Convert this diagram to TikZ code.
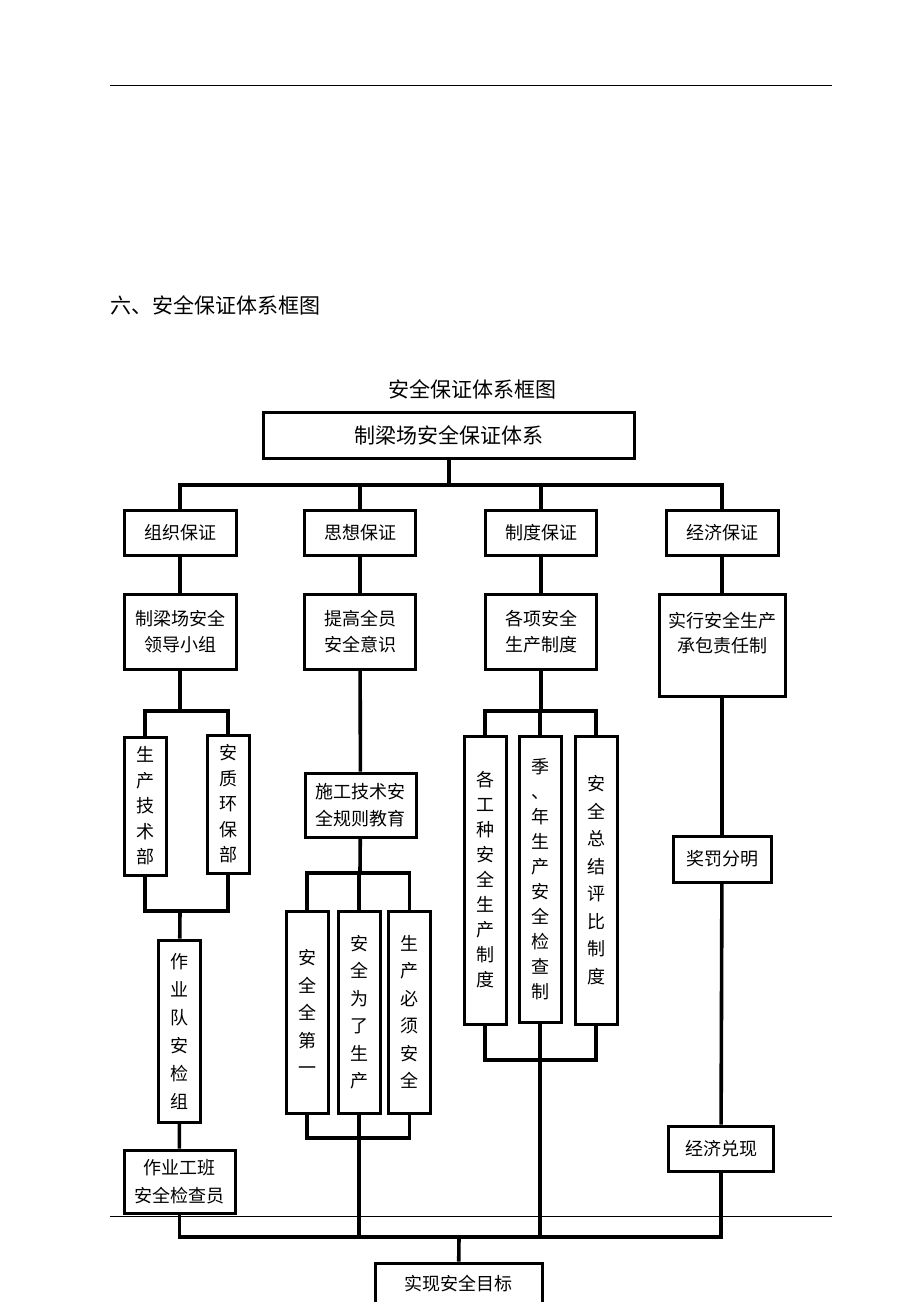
\documentclass[tikz,border=0pt]{standalone}
\usepackage{fontspec}
\setmainfont{Noto Sans CJK SC}
\usetikzlibrary{positioning}
\tikzstyle{block}=[rectangle, draw=black, line width=1.5pt, align=center, inner sep=0pt, font=\fontsize{9}{12.75}\selectfont]
\tikzstyle{column}=[block, minimum width=21pt]
\tikzstyle{link}=[line width=1.8pt]
\tikzstyle{rule}=[line width=0.5pt]

\begin{document}
\begin{tikzpicture}[x=0.5pt, y=-0.5pt]
            \useasboundingbox (0,0) rectangle (920,1302);
            %page rules and headings
            \draw[rule] (110,85) -- (832,85);
            \draw[rule] (110,1216) -- (832,1216);
            \node[anchor=west, inner sep=0pt, font=\fontsize{10.5}{12}\selectfont](head) at (110,305){六、安全保证体系框图};
            \node[font=\fontsize{10.5}{12}\selectfont](title) at (472,389){安全保证体系框图};
            % top box and the four guarantees
            \node[block, minimum width=185.5pt, minimum height=23pt, font=\fontsize{10.5}{12}\selectfont](root) at (449,435){制梁场安全保证体系};
            \node[block, minimum width=56pt, minimum height=22.5pt](g1) at (180,532.5){组织保证};
            \node[block, minimum width=55.5pt, minimum height=22.5pt](g2) at (360,532.5){思想保证};
            \node[block, minimum width=55.5pt, minimum height=22.5pt](g3) at (541,532.5){制度保证};
            \node[block, minimum width=56pt, minimum height=22.5pt](g4) at (722,532.5){经济保证};
            \coordinate (top) at (449,485);
            \draw[link] (root) -- (top);
            \foreach \n in {1,...,4}{
                \draw[link] (g\n) |- (top);
            }
            % second row
            \node[block, minimum width=56pt, minimum height=37.5pt](m1) at (180,631.5){制梁场安全\\领导小组};
            \node[block, minimum width=55.5pt, minimum height=37.5pt](m2) at (360,631.5){提高全员\\安全意识};
            \node[block, minimum width=55.5pt, minimum height=37.5pt](m3) at (541,631.5){各项安全\\生产制度};
            \node[block, minimum width=63pt, minimum height=51pt](m4) at (722,645){实行安全生产\\承包责任制\\\mbox{}};
            \foreach \n in {1,...,4}{
                \draw[link] (g\n) -- (m\n);
            }
            % organisation
            \node[column, minimum height=69pt](s1) at (145,806){生\\产\\技\\术\\部};
            \node[column, minimum height=69pt](s2) at (228,804){安\\质\\环\\保\\部};
            \node[column, minimum height=91pt, font=\fontsize{9}{14}\selectfont](t1) at (179,1031){作\\业\\队\\安\\检\\组};
            \node[block, minimum width=55.5pt, minimum height=31.5pt, font=\fontsize{9}{14}\selectfont](u1) at (179.5,1181.5){作业工班\\安全检查员};
            \coordinate (c1a) at (180,711);
            \coordinate (c1b) at (180,911);
            \draw[link] (m1) -- (c1a);
            \draw[link] (s1) |- (c1a);
            \draw[link] (s2) |- (c1a);
            \draw[link] (s1) |- (c1b);
            \draw[link] (s2) |- (c1b);
            \draw[link] (c1b) -- (t1);
            \draw[link] (t1) -- (u1);
            % thinking
            \node[block, minimum width=55.5pt, minimum height=32pt, font=\fontsize{9}{13.5}\selectfont](k2) at (360.5,805){施工技术安\\全规则教育};
            \node[column, minimum height=101pt, font=\fontsize{9}{13.75}\selectfont](v1) at (307,1012){安\\全\\全\\第\\一};
            \node[column, minimum height=101pt, font=\fontsize{9}{13.75}\selectfont](v2) at (359,1012){安\\全\\为\\了\\生\\产};
            \node[column, minimum height=101pt, font=\fontsize{9}{13.75}\selectfont](v3) at (409.5,1012){生\\产\\必\\须\\安\\全};
            \coordinate (c2a) at (360,873);
            \coordinate (c2b) at (360,1138);
            \draw[link] (m2) -- (k2);
            \draw[link] (k2) -- (c2a);
            \foreach \n in {1,2,3}{
                \draw[link] (v\n) |- (c2a);
            }
            \draw[link] (v1) |- (c2b);
            \draw[link] (v3) |- (c2b);
            % rules
            \node[column, minimum height=144pt, font=\fontsize{9}{12.5}\selectfont](w1) at (485,880){各\\工\\种\\安\\全\\生\\产\\制\\度};
            \node[column, minimum height=143pt, font=\fontsize{9}{12.5}\selectfont](w2) at (540,879){季\\、\\年\\生\\产\\安\\全\\检\\查\\制};
            \node[column, minimum height=144pt, font=\fontsize{9}{13.75}\selectfont](w3) at (596,880){安\\全\\总\\结\\评\\比\\制\\度};
            \coordinate (c3a) at (541,711);
            \coordinate (c3b) at (541,1060);
            \draw[link] (m3) -- (c3a);
            \foreach \n in {1,2,3}{
                \draw[link] (w\n) |- (c3a);
            }
            \draw[link] (w1) |- (c3b);
            \draw[link] (w3) |- (c3b);
            % economy
            \node[block, minimum width=49pt, minimum height=23pt](r1) at (722,859){奖罚分明};
            \node[block, minimum width=52.5pt, minimum height=22.5pt](r2) at (721,1148.5){经济兑现};
            \draw[link] (m4) -- (r1);
            \draw[link] (r1) -- (r2);
            % goal
            \node[block, minimum width=83.5pt, minimum height=21pt](goal) at (458.5,1284){实现安全目标};
            \coordinate (bot) at (459,1237);
            \draw[link] (u1) |- (bot);
            \draw[link] (v2) |- (bot);
            \draw[link] (w2) |- (bot);
            \draw[link] (r2) |- (bot);
            \draw[link] (bot) -- (goal);
\end{tikzpicture}
\end{document}
